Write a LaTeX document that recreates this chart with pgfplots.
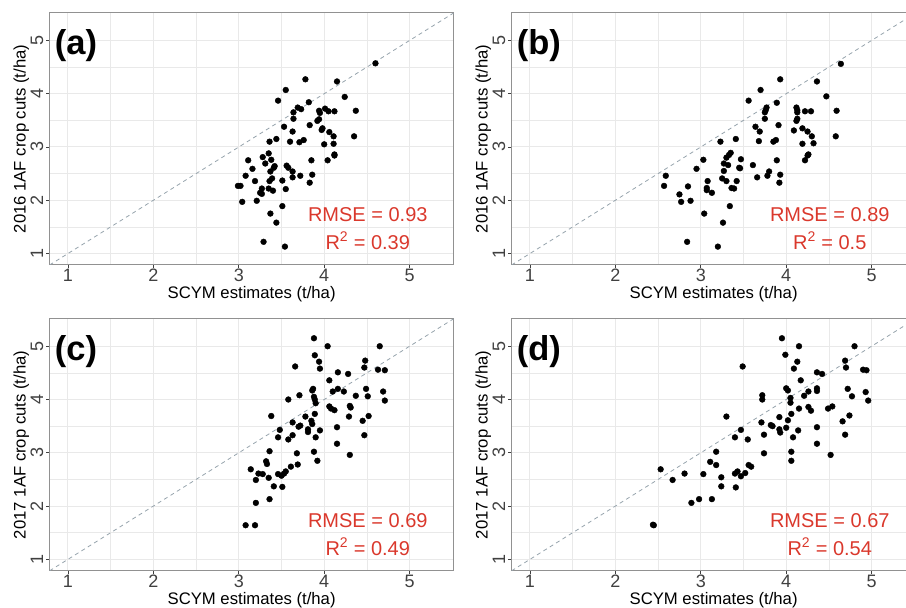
\documentclass[border=0pt]{standalone}
\usepackage{pgfplots}
\pgfplotsset{compat=1.18}
\usepackage{fontspec}
\setmainfont{Liberation Sans}
\definecolor{annot}{RGB}{218,56,44}
\definecolor{gridc}{RGB}{233,233,233}
\definecolor{framec}{RGB}{145,145,145}
\definecolor{diagc}{RGB}{150,163,172}

\pgfplotsset{
  panel/.style={
    scale only axis, width=404pt, height=252pt, anchor=south west,
    xmin=0.785, xmax=5.515, ymin=0.785, ymax=5.515,
    xtick={1,2,3,4,5}, ytick={1,2,3,4,5},
    minor xtick={1.5,2.5,3.5,4.5}, minor ytick={1.5,2.5,3.5,4.5},
    grid=both,
    major grid style={gridc, line width=1pt},
    minor grid style={gridc, line width=0.6pt},
    axis line style={framec, line width=1pt},
    tick pos=left, tick align=outside,
    major tick length=3.5pt, minor tick length=0pt,
    tick style={black!75, line width=0.9pt},
    /pgf/number format/assume math mode=true,
    ticklabel style={font=\fontsize{18}{18}\selectfont, text=black!75, inner sep=0pt},
    xticklabel style={anchor=base, yshift=-13.5pt},
    yticklabel style={rotate=90, anchor=base, yshift=3pt},
    label style={font=\fontsize{16.7}{18}\selectfont},
    xlabel={SCYM estimates (t/ha)},
    xlabel style={at={(axis description cs:0.5,0)}, anchor=base, yshift=-34pt, inner sep=0pt},
    ylabel style={at={(axis description cs:-0.0594,0.5)}, anchor=base, inner sep=0pt},
    clip=true,
  },
  diag/.style={diagc, line width=0.8pt, dash pattern=on 4pt off 3.5pt},
  pts/.style={only marks, mark=*, mark size=2.9pt, black},
}
\tikzset{
  tag/.style={anchor=base west, inner sep=0pt, font=\bfseries\fontsize{34.5}{34.5}\selectfont},
  stat/.style={anchor=base, inner sep=0pt, text=annot, font=\fontsize{20}{20}\selectfont},
}

\begin{document}
\begin{tikzpicture}
\useasboundingbox (0,0) rectangle (906pt,608pt);
\clip (0,0) rectangle (906pt,608pt);

% (a) 2016, x = SCYM
\begin{axis}[panel, at={(49.6pt,343pt)}, ylabel={2016 1AF crop cuts (t/ha)}]
\addplot[diag] coordinates {(0.785,0.785) (5.515,5.515)};
\addplot[pts] coordinates {
(4.60,4.57) (3.78,4.27) (4.15,4.23) (3.55,4.07) (3.46,3.87) (4.24,3.94) (3.82,3.84)
(3.69,3.74) (3.73,3.71) (3.64,3.65) (3.64,3.53) (3.94,3.68) (3.95,3.64) (4.01,3.72)
(4.05,3.67) (4.12,3.67) (4.37,3.68) (3.94,3.52) (3.92,3.49) (3.83,3.41) (3.53,3.38)
(3.98,3.35) (3.97,3.32) (4.06,3.28) (3.63,3.29) (3.44,3.15) (3.36,3.10) (3.60,3.10)
(3.71,3.09) (3.76,3.13) (4.11,3.20) (4.00,3.05) (4.11,3.06) (4.35,3.20) (3.35,2.88)
(3.28,2.81) (3.38,2.76) (3.11,2.75) (3.31,2.69) (3.42,2.64) (3.41,2.61) (3.56,2.65)
(3.58,2.61) (3.63,2.54) (3.85,2.75) (4.12,2.86) (4.12,2.84) (4.04,2.75) (3.16,2.59)
(3.08,2.46) (3.37,2.54) (3.36,2.36) (3.63,2.43) (3.72,2.46) (3.86,2.48) (3.83,2.33)
(3.51,2.37) (3.19,2.36) (3.39,2.41) (2.99,2.27) (3.02,2.27) (3.35,2.22) (3.27,2.22)
(3.40,2.18) (3.55,2.21) (3.25,2.14) (3.27,2.12) (3.04,1.97) (3.21,1.99) (3.51,1.89)
(3.37,1.75) (3.44,1.58) (3.29,1.22) (3.54,1.13)
};
\node[tag] at (axis cs:0.845,4.733) {(a)};
\node[stat] at (axis cs:4.51,1.60) {RMSE = 0.93};
\node[stat] at (axis cs:4.51,1.08) {R\textsuperscript{2} = 0.39};
\end{axis}

% (b) 2016, x = other estimate
\begin{axis}[panel, at={(511.6pt,343pt)}, ylabel={2016 1AF crop cuts (t/ha)}]
\addplot[diag] coordinates {(0.785,0.785) (5.515,5.515)};
\addplot[pts] coordinates {
(4.64,4.56) (3.93,4.27) (4.36,4.23) (3.70,4.07) (3.56,3.87) (4.47,3.95) (3.89,3.83)
(3.77,3.74) (3.76,3.69) (3.75,3.65) (3.75,3.53) (4.12,3.74) (4.13,3.69) (4.13,3.65)
(4.22,3.67) (4.29,3.67) (4.59,3.68) (4.13,3.53) (4.12,3.49) (4.09,3.31) (3.91,3.41)
(3.64,3.38) (3.69,3.29) (4.19,3.35) (4.25,3.29) (4.30,3.20) (4.32,3.07) (4.19,3.06)
(4.58,3.20) (3.41,3.15) (3.23,3.10) (3.68,3.11) (3.88,3.13) (3.85,3.10) (4.26,2.86)
(4.25,2.84) (4.22,2.75) (3.35,2.89) (3.33,2.85) (3.30,2.80) (3.27,2.69) (3.32,2.66)
(3.47,2.77) (3.45,2.61) (3.46,2.60) (3.03,2.76) (2.95,2.59) (3.61,2.66) (3.89,2.75)
(3.27,2.55) (3.66,2.43) (3.78,2.46) (3.80,2.54) (3.93,2.48) (3.92,2.33) (2.59,2.46)
(2.57,2.27) (2.85,2.26) (2.75,2.11) (2.77,1.97) (2.88,1.99) (3.08,2.36) (3.07,2.23)
(3.07,2.19) (3.13,2.14) (3.25,2.41) (3.30,2.36) (3.42,2.36) (3.36,2.23) (3.39,2.22)
(3.34,1.89) (3.04,1.75) (3.26,1.58) (2.84,1.22) (3.20,1.13)
};
\node[tag] at (axis cs:0.845,4.733) {(b)};
\node[stat] at (axis cs:4.51,1.60) {RMSE = 0.89};
\node[stat] at (axis cs:4.51,1.08) {R\textsuperscript{2} = 0.5};
\end{axis}

% (c) 2017, x = SCYM
\begin{axis}[panel, at={(49.6pt,37.2pt)}, ylabel={2017 1AF crop cuts (t/ha)}]
\addplot[diag] coordinates {(0.785,0.785) (5.515,5.515)};
\addplot[pts] coordinates {
(3.88,5.15) (4.04,5.00) (4.65,5.00) (3.89,4.83) (3.94,4.71) (3.95,4.58) (3.66,4.62)
(4.48,4.73) (4.47,4.60) (4.63,4.56) (4.71,4.55) (4.16,4.51) (4.28,4.48) (4.06,4.36)
(3.87,4.20) (3.86,4.17) (4.16,4.20) (4.10,4.15) (4.23,4.15) (4.49,4.20) (4.69,4.15)
(3.71,4.08) (3.58,4.00) (3.88,4.05) (3.89,4.00) (3.90,3.93) (4.37,4.07) (4.51,4.06)
(4.71,3.98) (4.06,3.87) (4.08,3.83) (4.12,3.80) (4.30,3.88) (4.31,3.85) (3.38,3.69)
(3.89,3.73) (3.78,3.68) (4.29,3.68) (4.52,3.69) (4.45,3.60) (3.63,3.57) (3.72,3.51)
(3.70,3.49) (3.85,3.60) (3.86,3.54) (3.81,3.44) (3.81,3.39) (3.95,3.42) (3.48,3.43)
(3.46,3.29) (3.58,3.25) (3.63,3.33) (3.90,3.29) (4.15,3.48) (4.15,3.17) (4.47,3.33)
(3.88,3.02) (3.92,2.85) (4.30,2.96) (3.68,2.99) (3.69,2.78) (3.36,3.03) (3.32,2.84)
(3.33,2.79) (3.14,2.69) (3.23,2.61) (3.28,2.60) (3.20,2.49) (3.35,2.53) (3.41,2.37)
(3.46,2.60) (3.50,2.57) (3.53,2.61) (3.55,2.65) (3.61,2.74) (3.51,2.36) (3.20,2.06)
(3.36,2.13) (3.08,1.64) (3.19,1.64)
};
\node[tag] at (axis cs:0.845,4.733) {(c)};
\node[stat] at (axis cs:4.51,1.60) {RMSE = 0.69};
\node[stat] at (axis cs:4.51,1.08) {R\textsuperscript{2} = 0.49};
\end{axis}

% (d) 2017, x = other estimate
\begin{axis}[panel, at={(511.6pt,37.2pt)}, ylabel={2017 1AF crop cuts (t/ha)}]
\addplot[diag] coordinates {(0.785,0.785) (5.515,5.515)};
\addplot[pts] coordinates {
(3.95,5.15) (4.15,5.00) (4.80,5.00) (3.99,4.84) (4.13,4.71) (4.09,4.58) (3.49,4.62)
(4.69,4.73) (4.70,4.60) (4.90,4.56) (4.94,4.55) (4.36,4.51) (4.42,4.48) (4.17,4.36)
(4.00,4.21) (4.02,4.17) (4.36,4.21) (4.36,4.16) (4.26,4.15) (4.72,4.20) (4.93,4.14)
(4.21,4.07) (4.77,4.06) (4.96,3.98) (3.72,4.08) (3.72,4.00) (4.05,4.03) (4.05,3.94)
(4.15,3.83) (4.26,3.86) (4.29,3.79) (4.49,3.83) (4.54,3.87) (3.30,3.68) (3.92,3.67)
(4.06,3.73) (4.66,3.59) (4.74,3.70) (4.36,3.48) (4.02,3.61) (3.71,3.57) (3.82,3.52)
(3.84,3.50) (3.92,3.44) (3.93,3.38) (4.00,3.47) (4.14,3.42) (3.74,3.34) (3.47,3.43)
(3.55,3.25) (3.40,3.29) (4.08,3.29) (4.36,3.17) (4.69,3.34) (3.74,2.99) (4.06,3.02)
(4.06,2.85) (4.52,2.96) (3.18,3.02) (3.11,2.83) (3.18,2.77) (2.53,2.69) (2.67,2.49)
(2.81,2.61) (3.03,2.60) (3.24,2.54) (3.24,2.37) (3.41,2.35) (3.40,2.61) (3.43,2.65)
(3.47,2.56) (3.52,2.62) (3.56,2.77) (3.59,2.74) (2.89,2.06) (2.98,2.13) (3.13,2.13)
(2.44,1.65) (2.45,1.64)
};
\node[tag] at (axis cs:0.845,4.733) {(d)};
\node[stat] at (axis cs:4.51,1.60) {RMSE = 0.67};
\node[stat] at (axis cs:4.51,1.08) {R\textsuperscript{2} = 0.54};
\end{axis}
\end{tikzpicture}
\end{document}
